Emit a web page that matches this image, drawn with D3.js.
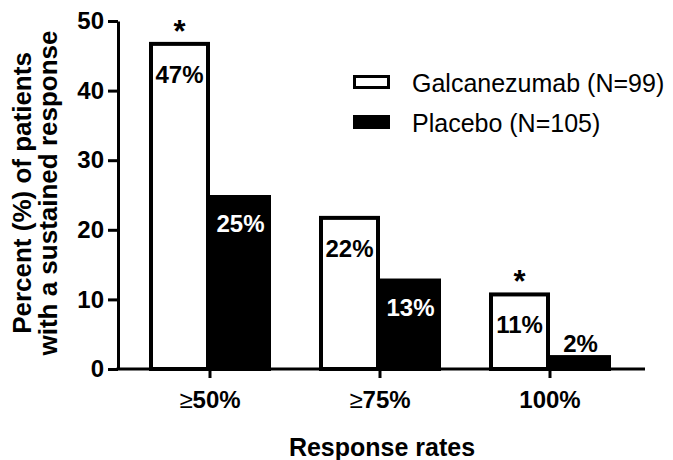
<!DOCTYPE html>
<html>
<head>
<meta charset="utf-8">
<script src="https://cdn.jsdelivr.net/npm/d3@7"></script>
<style>
  body { margin: 0; background: #fff; }
  svg { font-family: "Liberation Sans", Arial, Helvetica, sans-serif; }
</style>
</head>
<body>
<svg id="chart" width="673" height="460"></svg>
<script>
// chart data
const categories = ["≥50%", "≥75%", "100%"];
const seriesNames = ["Galcanezumab (N=99)", "Placebo (N=105)"];
const galcanezumab = [47, 22, 11];
const placebo = [25, 13, 2];
const significant = [true, false, true];
const yTicks = [0, 10, 20, 30, 40, 50];
const xTitle = "Response rates";
const yTitle = ["Percent (%) of patients", "with a sustained response"];

const seriesValues = [galcanezumab, placebo];
const seriesFill = ["#fff", "#000"];

const svg = d3.select("#chart");

// scales
let y = d3.scaleLinear().domain([0, 50]).range([369, 21]);
let x0 = d3.scaleBand().domain(categories).range([125, 635]).padding(0);
let x1 = d3.scaleBand().domain(seriesNames).range([24, 146]);

// rows: one per category, with both series
let rows = categories.map((c, i) => ({
    cat: c,
    sig: significant[i],
    bars: seriesNames.map((s, j) => ({ cat: c, series: s, idx: j, value: seriesValues[j][i] }))
}));

let groups = svg.selectAll("g.group")
    .data(rows)
    .enter()
    .append("g")
    .attr("class", "group")
    .attr("transform", d => "translate(" + x0(d.cat) + ",0)");

// bars
groups.selectAll("rect")
    .data(d => d.bars)
    .enter()
    .append("rect")
    .attr("x", d => x1(d.series) + 2)
    .attr("width", x1.bandwidth() - 4)
    .attr("y", d => y(d.value) + 2)
    .attr("height", d => y(0) - y(d.value) - 2)
    .attr("fill", d => seriesFill[d.idx])
    .attr("stroke", "#000")
    .attr("stroke-width", 4);

// value labels
groups.selectAll("text.val")
    .data(d => d.bars)
    .enter()
    .append("text")
    .attr("class", "val")
    .attr("x", d => x1(d.series) + x1.bandwidth() / 2)
    .attr("y", d => d.value < 5 ? y(d.value) - 3 : y(d.value) + (d.idx === 0 ? 41 : 37))
    .attr("text-anchor", "middle")
    .attr("font-size", 24)
    .attr("font-weight", "bold")
    .attr("fill", d => (d.idx === 1 && d.value >= 5) ? "#fff" : "#000")
    .text(d => d.value + "%");

// significance asterisks over the galcanezumab bars
groups.filter(d => d.sig)
    .append("text")
    .attr("x", x1(seriesNames[0]) + x1.bandwidth() / 2)
    .attr("y", d => y(d.bars[0].value))
    .attr("text-anchor", "middle")
    .attr("font-size", 31)
    .attr("font-weight", "bold")
    .text("*");

// y axis
let yAxis = svg.append("g")
    .attr("transform", "translate(118,0)")
    .call(d3.axisLeft(y).tickValues(yTicks).tickSize(10).tickSizeOuter(0).tickPadding(4));
yAxis.select(".domain").attr("stroke", "#000").attr("stroke-width", 3);
yAxis.selectAll(".tick line").attr("stroke", "#000").attr("stroke-width", 3);
yAxis.selectAll(".tick text")
    .attr("font-size", 24)
    .attr("font-weight", "bold")
    .attr("fill", "#000")
    .attr("font-family", null);

// x axis
let xAxis = svg.append("g")
    .attr("transform", "translate(0,369)")
    .call(d3.axisBottom(x0).tickSize(9).tickSizeOuter(0).tickPadding(13));
xAxis.select(".domain").remove();
xAxis.append("line")
    .attr("x1", 116.5).attr("x2", 645)
    .attr("stroke", "#000").attr("stroke-width", 3);
xAxis.selectAll(".tick line").attr("stroke", "#000").attr("stroke-width", 3);
xAxis.selectAll(".tick text")
    .attr("font-size", 24)
    .attr("font-weight", "bold")
    .attr("fill", "#000")
    .attr("font-family", null)
    .each(function (d) {
        let t = d3.select(this);
        if (d.startsWith("≥")) {
            t.text(null);
            t.append("tspan").attr("font-weight", "normal").text("≥");
            t.append("tspan").text(d.slice(1));
        }
    });

// axis titles
svg.append("text")
    .attr("x", 382)
    .attr("y", 456)
    .attr("text-anchor", "middle")
    .attr("font-size", 25)
    .attr("font-weight", "bold")
    .text(xTitle);

let yt = svg.append("text")
    .attr("transform", "translate(0,193) rotate(-90)")
    .attr("text-anchor", "middle")
    .attr("font-size", 26)
    .attr("font-weight", "bold");
yt.selectAll("tspan")
    .data(yTitle)
    .enter()
    .append("tspan")
    .attr("x", 0)
    .attr("y", (d, i) => 31 + i * 26)
    .text(d => d);

// legend
let legend = svg.selectAll("g.legend")
    .data(seriesNames)
    .enter()
    .append("g")
    .attr("class", "legend")
    .attr("transform", (d, i) => "translate(353," + (75 + i * 40) + ")");

legend.append("rect")
    .attr("x", 1.5).attr("y", 1.5)
    .attr("width", 34).attr("height", 11)
    .attr("fill", (d, i) => seriesFill[i])
    .attr("stroke", "#000")
    .attr("stroke-width", 3);

legend.append("text")
    .attr("x", 59)
    .attr("y", 17)
    .attr("font-size", 25)
    .text(d => d);
</script>
</body>
</html>
